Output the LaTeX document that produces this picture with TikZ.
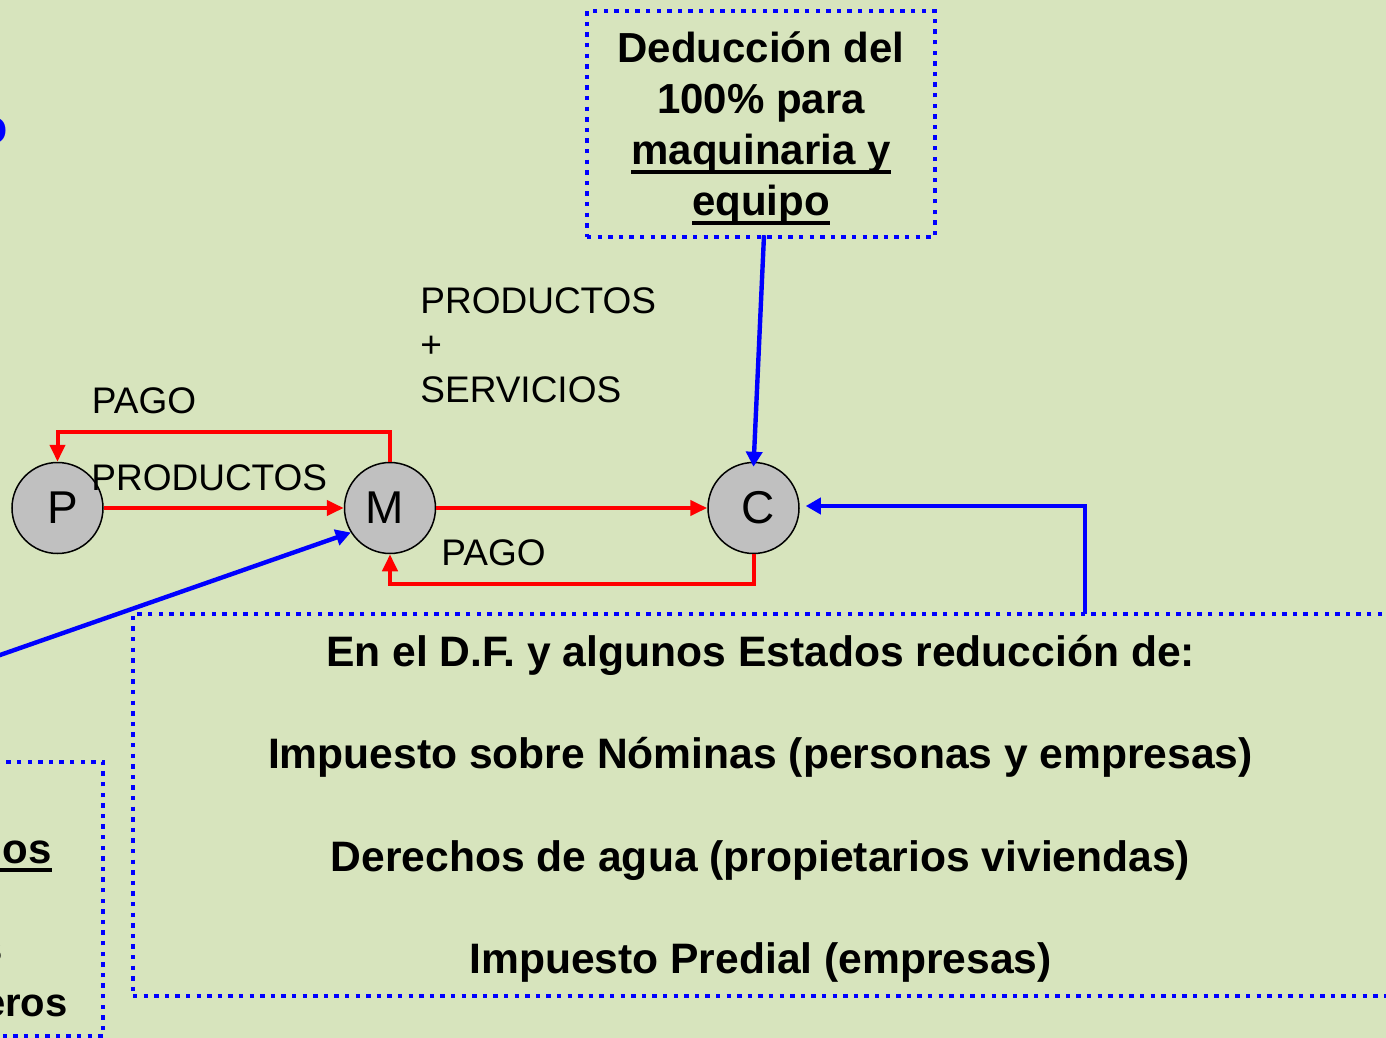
\documentclass[tikz,border=0pt]{standalone}
\usepackage{fontspec}
\setmainfont{Liberation Sans}
\usetikzlibrary{arrows.meta}
\definecolor{bgolive}{HTML}{D7E4BD}
\definecolor{nodegray}{HTML}{C0C0C0}
\newcommand{\ulthick}[1]{\setbox0\hbox{#1}\rlap{\rule[-4.5pt]{\wd0}{2pt}}\box0}

\begin{document}
\begin{tikzpicture}[x=0.5pt,y=0.5pt,yscale=-1,xscale=1,
    agent/.style={circle, draw=black, line width=0.75pt, fill=nodegray, minimum size=45.5pt, inner sep=0pt, font=\fontsize{23}{27}\selectfont},
    lbl/.style={inner sep=0pt, font=\fontsize{18.5}{22.25}\selectfont},
    dotbox/.style={draw=blue, line width=2.2pt, dash pattern=on 2.2pt off 3.1pt},
    flowred/.style={draw=red, line width=2pt, -{Triangle[length=8.5pt,width=7.5pt]}},
    flowblue/.style={draw=blue, line width=2.2pt, -{Triangle[length=7.5pt,width=8pt]}}]
    %set diagram to the frame of 1386 x 1038
    \useasboundingbox (0,0) rectangle (1386,1038);
    \fill[bgolive] (0,0) rectangle (1386,1038);
    \clip (0,0) rectangle (1386,1038);

    %Shape: Circle [id:agentP]
    \node[agent] (P) at (57.5,508) {\hspace*{5pt}P};
    %Shape: Circle [id:agentM]
    \node[agent] (M) at (390,508) {M\hspace*{5pt}};
    %Shape: Circle [id:agentC]
    \node[agent] (C) at (753.5,508) {\hspace*{5pt}C};

    %Shape: Rectangle [id:dedbox]
    \node[dotbox, minimum width=174pt, minimum height=113pt, inner sep=0pt, align=center, font=\fontsize{21}{25.5}\selectfont\bfseries] (dedbox) at (761,124) {\rule{0pt}{19.5pt}Deducción del\\100\% para\\\ulthick{maquinaria y}\\\ulthick{equipo}};
    %Shape: Rectangle [id:reduc]
    \node[dotbox, minimum width=627.5pt, minimum height=191pt, inner sep=0pt, align=center, font=\fontsize{21.3}{51.2}\selectfont\bfseries] (reduc) at (760.5,805) {\rule{0pt}{19.5pt}En el D.F. y algunos Estados reducción de:\\Impuesto sobre Nóminas (personas y empresas)\\Derechos de agua (propietarios viviendas)\\Impuesto Predial (empresas)};
    %Shape: Rectangle [id:leftbox]
    \draw[dotbox] (-20,762) rectangle (103,1036);

    %Straight Lines [id:pm]
    \draw[flowred] (P) -- (M);
    %Straight Lines [id:mp]
    \draw[flowred] (M.north) -- ++(0,-30) -| (P.north);
    %Straight Lines [id:mc]
    \draw[flowred] (M) -- (C);
    %Straight Lines [id:cm]
    \draw[flowred] (C.south) -- ++(0,30) -| (M.south);

    \coordinate (lfeed) at (-40,669);
    \coordinate (rfeed) at (1085,614);
    %Straight Lines [id:toc]
    \draw[flowblue] ([xshift=1.5pt,yshift=-2pt]dedbox.south) -- ([yshift=2.5pt]C.north);
    %Straight Lines [id:rtoc]
    \draw[flowblue] (rfeed) |- ([xshift=3pt,yshift=-1pt]C.east);
    %Straight Lines [id:ltom]
    \draw[flowblue] (lfeed) -- (M.212);

    % Text Node
    \node[lbl] (pagotop) at (144,401) {PAGO};
    % Text Node
    \node[lbl, anchor=west] (prodpm) at (91,478) {PRODUCTOS};
    % Text Node
    \node[lbl, anchor=west, align=left] (prodserv) at (420,345) {PRODUCTOS\\+\\SERVICIOS};
    % Text Node
    \node[lbl, anchor=west] (pagobot) at (441,553) {PAGO};

    % Text Node
    \node[anchor=base east, inner sep=0pt, text=blue, font=\fontsize{24}{28}\selectfont\bfseries] (bluefrag) at (8,143) {o};
    % Text Node
    \node[anchor=base east, inner sep=0pt, font=\fontsize{21}{25}\selectfont\bfseries] (osfrag) at (52,863) {\ulthick{\hspace*{30pt}os}};
    % Text Node
    \node[anchor=base east, inner sep=0pt, font=\fontsize{21}{25}\selectfont\bfseries] (sfrag) at (3,962) {s};
    % Text Node
    \node[anchor=base east, inner sep=0pt, font=\fontsize{20}{24}\selectfont\bfseries] (erosfrag) at (68,1016) {eros};
\end{tikzpicture}
\end{document}
